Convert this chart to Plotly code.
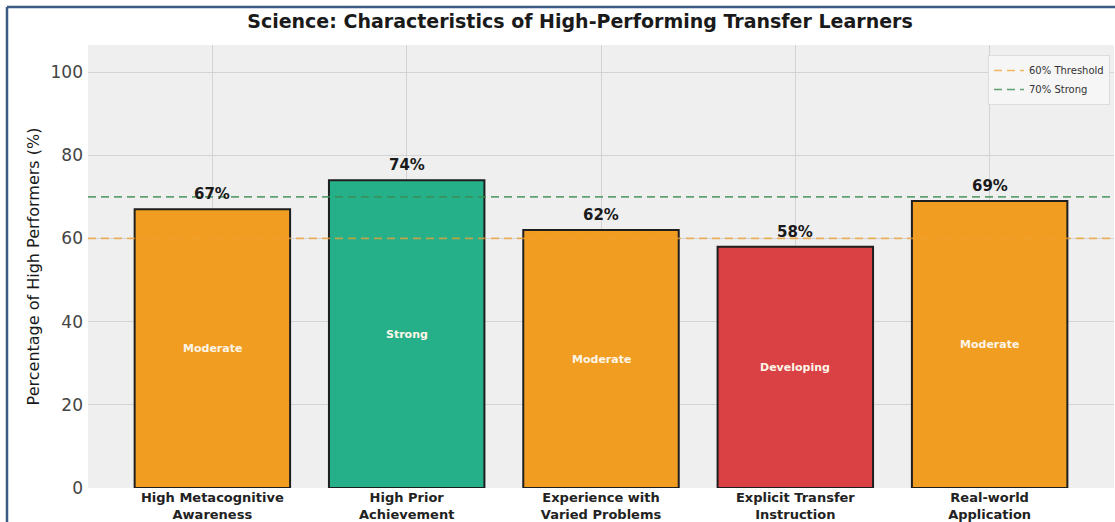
import plotly.graph_objects as go

# Data
categories = [
    "High Metacognitive<br>Awareness",
    "High Prior<br>Achievement",
    "Experience with<br>Varied Problems",
    "Explicit Transfer<br>Instruction",
    "Real-world<br>Application",
]
percentages = [67, 74, 62, 58, 69]
strength = ["Moderate", "Strong", "Moderate", "Developing", "Moderate"]
threshold_values = [60, 70]
threshold_names = ["60% Threshold", "70% Strong"]

strength_colors = {"Strong": "#26b08a", "Moderate": "#f19d22", "Developing": "#d94145"}
threshold_colors = ["rgba(240,160,50,0.75)", "rgba(60,140,80,0.8)"]

W, H = 1115, 522
L, R, T, B = 88, 1, 45, 34
XR = [-0.64, 4.64]
YR = [0, 106.5]
FONT = "DejaVu Sans"

xs = list(range(len(categories)))

fig = go.Figure()

fig.add_trace(go.Bar(
    x=xs, y=percentages, width=0.8,
    marker=dict(color=[strength_colors[s] for s in strength],
                line=dict(color="#1e1e1e", width=2)),
    showlegend=False, hoverinfo="skip",
))

for v, name, col in zip(threshold_values, threshold_names, threshold_colors):
    fig.add_trace(go.Scatter(
        x=XR, y=[v, v], mode="lines", name=name,
        line=dict(color=col, width=1.6, dash="8px,5px"),
        hoverinfo="skip",
    ))

# value labels above bars and strength labels inside
for x, v, s in zip(xs, percentages, strength):
    fig.add_annotation(x=x, y=v, text=f"<b>{v}%</b>", showarrow=False,
                       yanchor="bottom", yshift=4,
                       font=dict(family=FONT, size=15, color="#1a1a1a"))
    fig.add_annotation(x=x, y=v / 2, text=f"<b>{s}</b>", showarrow=False,
                       font=dict(family=FONT, size=11, color="#fdf6e8"))

# frame around the figure
pw = W - L - R
ph = H - T - B
def px_x(p):
    return (p - L) / pw
def px_y(p):
    return (H - B - p) / ph
frame = "#3b5a84"
fig.add_shape(type="line", xref="paper", yref="paper",
              x0=px_x(7), x1=px_x(7), y0=px_y(7), y1=px_y(530),
              line=dict(color=frame, width=2.5))
fig.add_shape(type="line", xref="paper", yref="paper",
              x0=px_x(7), x1=px_x(1120), y0=px_y(7), y1=px_y(7),
              line=dict(color=frame, width=2.5))

fig.update_layout(
    width=W, height=H,
    margin=dict(l=L, r=R, t=T, b=B, pad=0, autoexpand=False),
    paper_bgcolor="white",
    plot_bgcolor="#efefef",
    title=dict(text="<b>Science: Characteristics of High-Performing Transfer Learners</b>",
               x=580 / W, xanchor="center", y=1 - 21 / H, yanchor="middle",
               font=dict(family=FONT, size=19, color="#1a1a1a")),
    font=dict(family=FONT),
    bargap=0.2,
    legend=dict(x=px_x(1110), y=px_y(55), xanchor="right", yanchor="top",
                bgcolor="#f6f6f6", bordercolor="#dcdcdc", borderwidth=1,
                font=dict(family=FONT, size=10, color="#333333"),
                itemwidth=30, tracegroupgap=0),
)

fig.update_xaxes(
    range=XR, tickvals=xs, ticktext=[f"<b>{c}</b>" for c in categories],
    tickfont=dict(family=FONT, size=13, color="#222222"),
    showgrid=True, gridcolor="#d3d3d3", gridwidth=1,
    zeroline=False, showline=False, ticks="", ticklen=0,
)
fig.update_yaxes(
    range=YR, tickvals=[0, 20, 40, 60, 80, 100],
    tickfont=dict(family=FONT, size=17, color="#444444"),
    ticklabelstandoff=4,
    title=dict(text="Percentage of High Performers (%)", standoff=6,
               font=dict(family=FONT, size=16, color="#1a1a1a")),
    showgrid=True, gridcolor="#d3d3d3", gridwidth=1,
    zeroline=False, showline=False, ticks="", ticklen=0,
)

fig.write_html("out.html")
